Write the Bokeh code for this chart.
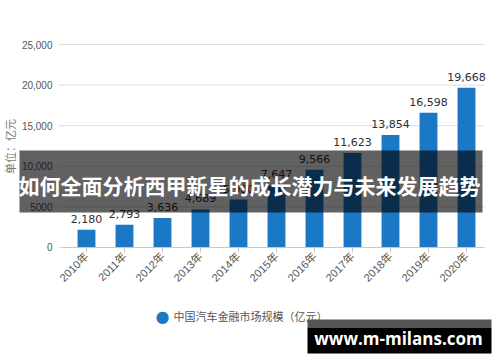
import math
from bokeh.plotting import figure
from bokeh.models import (Range1d, ColumnDataSource, FixedTicker, BoxAnnotation,
                          Label, LinearAxis)
from bokeh.core.properties import value
from bokeh.embed import file_html
from bokeh.resources import INLINE

years = ["2010年", "2011年", "2012年", "2013年", "2014年", "2015年",
         "2016年", "2017年", "2018年", "2019年", "2020年"]
values = [2180, 2793, 3636, 4689, 5900, 7647, 9566, 11623, 13854, 16598, 19668]
value_labels = ["2,180", "2,793", "3,636", "4,689", "5,900", "7,647",
                "9,566", "11,623", "13,854", "16,598", "19,668"]
y_ticks = [0, 5000, 10000, 15000, 20000, 25000]
y_tick_labels = ["0", "5000", "10,000", "15,000", "20,000", "25,000"]
legend_text = "中国汽车金融市场规模（亿元）"
y_title = "单位：亿元"
banner_text = "如何全面分析西甲新星的成长潜力与未来发展趋势"
site_text = "www.m-milans.com"

BLUE = "#1b78c4"
FONT = "'Liberation Sans', 'Noto Sans CJK SC'"
CJK = "Noto Sans CJK SC"

# plot-area extent in data units (left/right edges of the gridlines)
X_LEFT, X_RIGHT = -0.737, 10.474

xs = list(range(len(years)))
src = ColumnDataSource(dict(x=xs, top=values, lab=value_labels))
grid_src = ColumnDataSource(dict(y=y_ticks, x0=[X_LEFT] * len(y_ticks),
                                 x1=[X_RIGHT] * len(y_ticks)))

p = figure(width=500, height=362, output_backend="svg", toolbar_location=None,
           x_range=Range1d(-2.263, 10.895), y_range=Range1d(-14163, 30419),
           x_axis_location=None, y_axis_location=None,
           min_border=0)
p.outline_line_color = None
p.background_fill_color = "white"
p.border_fill_color = "white"
p.grid.grid_line_color = None

p.segment(x0="x0", x1="x1", y0="y", y1="y", source=grid_src,
          line_color="#dedede", line_width=1)

p.vbar(x="x", top="top", width=0.47, bottom=0, source=src,
       fill_color=BLUE, line_color=None)
p.text(x="x", y="top", text="lab", source=src, text_align="center",
       text_baseline="bottom", y_offset=-7, text_color="#2e2e2e",
       text_font=value("DejaVu Sans"), text_font_size="11px")

yax = LinearAxis(fixed_location=X_LEFT, ticker=FixedTicker(ticks=y_ticks))
yax.major_label_overrides = {t: l for t, l in zip(y_ticks, y_tick_labels)}
yax.axis_line_color = None
yax.major_tick_line_color = None
yax.minor_tick_line_color = None
yax.major_label_text_color = "#555555"
yax.major_label_text_font = FONT
yax.major_label_text_font_size = "10px"
yax.major_label_standoff = 0
p.add_layout(yax, "left")

xax = LinearAxis(fixed_location=0, ticker=FixedTicker(ticks=xs),
                 bounds=(-0.63, X_RIGHT))
xax.major_label_overrides = {i: y for i, y in zip(xs, years)}
xax.major_label_orientation = math.pi / 4
xax.axis_line_color = "#c8c8c8"
xax.major_tick_line_color = "#c8c8c8"
xax.major_tick_in = 0
xax.major_tick_out = 5
xax.minor_tick_line_color = None
xax.major_label_text_color = "#555555"
xax.major_label_text_font = FONT
xax.major_label_text_font_size = "11px"
xax.major_label_standoff = 2
p.add_layout(xax, "below")

# y title
p.add_layout(Label(x=9, y=146, x_units="canvas", y_units="canvas", text=y_title,
                   angle=math.pi / 2, text_align="center", text_baseline="middle",
                   text_color="#777777", text_font=CJK, text_font_size="11px"))

# legend
p.add_layout(Label(x=162, y=315.5, x_units="canvas", y_units="canvas", text="●",
                   text_align="center", text_baseline="middle",
                   text_color=BLUE, text_font="DejaVu Sans", text_font_size="16px"))
p.add_layout(Label(x=173, y=315.5, x_units="canvas", y_units="canvas", text=legend_text,
                   text_align="left", text_baseline="middle",
                   text_color="#555555", text_font=CJK, text_font_size="11px"))

# banner overlay
p.add_layout(BoxAnnotation(left=19, right=482, top=150, bottom=212,
                           left_units="canvas", right_units="canvas",
                           top_units="canvas", bottom_units="canvas",
                           fill_color="black", fill_alpha=0.62, line_color=None,
                           level="overlay"))
p.add_layout(Label(x=249, y=184, x_units="canvas", y_units="canvas", text=banner_text,
                   text_align="center", text_baseline="middle",
                   text_color="white", text_font=CJK, text_font_style="bold",
                   text_font_size="21px", level="overlay"))

# site box
p.add_layout(BoxAnnotation(left=307, right=491, top=319, bottom=327,
                           left_units="canvas", right_units="canvas",
                           top_units="canvas", bottom_units="canvas",
                           fill_color="#555555", fill_alpha=1, line_color=None,
                           level="overlay"))
p.add_layout(BoxAnnotation(left=307, right=491, top=327, bottom=353,
                           left_units="canvas", right_units="canvas",
                           top_units="canvas", bottom_units="canvas",
                           fill_color="black", fill_alpha=1, line_color=None,
                           level="overlay"))
p.add_layout(Label(x=398, y=338, x_units="canvas", y_units="canvas", text=site_text,
                   text_align="center", text_baseline="middle",
                   text_color="white", text_font="Open Sans", text_font_style="bold",
                   text_font_size="17px", level="overlay"))

open("out.html", "w").write(file_html(p, INLINE))
